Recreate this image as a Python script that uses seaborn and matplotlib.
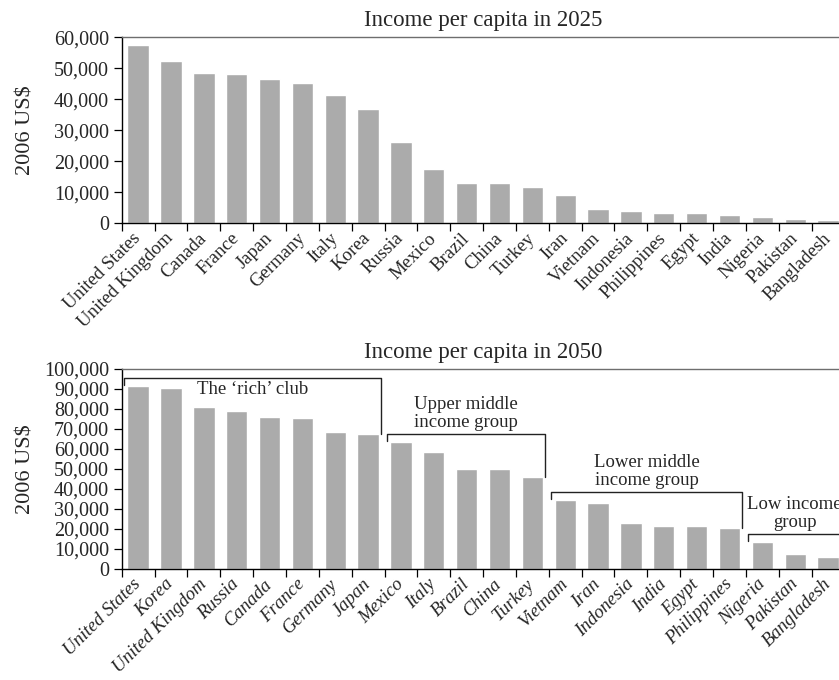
import numpy as np
import matplotlib
matplotlib.use('Agg')
import matplotlib.pyplot as plt
import seaborn as sns

# Income per capita (2006 US$)
countries_2025 = ['United States', 'United Kingdom', 'Canada', 'France', 'Japan', 'Germany',
                  'Italy', 'Korea', 'Russia', 'Mexico', 'Brazil', 'China', 'Turkey', 'Iran',
                  'Vietnam', 'Indonesia', 'Philippines', 'Egypt', 'India', 'Nigeria',
                  'Pakistan', 'Bangladesh']
income_2025 = [57400, 52300, 48400, 48100, 46500, 45200, 41300, 36800, 26100, 17400,
               12900, 12900, 11600, 9000, 4500, 3900, 3200, 3200, 2600, 1900, 1300, 1000]

countries_2050 = ['United States', 'Korea', 'United Kingdom', 'Russia', 'Canada', 'France',
                  'Germany', 'Japan', 'Mexico', 'Italy', 'Brazil', 'China', 'Turkey',
                  'Vietnam', 'Iran', 'Indonesia', 'India', 'Egypt', 'Philippines', 'Nigeria',
                  'Pakistan', 'Bangladesh']
income_2050 = [91500, 90300, 80800, 78800, 75800, 75300, 68500, 67500, 63500, 58500,
               50000, 50000, 46000, 34500, 33000, 23000, 21500, 21500, 20500, 13500,
               7500, 6000]

# income groups in 2050 (first and last member)
group_names = ['The \u2018rich\u2019 club', 'Upper middle\nincome group',
               'Lower middle\nincome group', 'Low income\ngroup']
group_first = ['United States', 'Mexico', 'Vietnam', 'Nigeria']
group_last = ['Japan', 'Turkey', 'Philippines', 'Bangladesh']

BAR = '#ababab'
BAR_W = 0.65

sns.set_theme(style='ticks')
plt.rcParams['font.family'] = ['Liberation Serif', 'DejaVu Serif']
plt.rcParams['axes.linewidth'] = 1.0

fig = plt.figure(figsize=(8.39, 6.8), dpi=100)
ax1 = fig.add_axes([0.1451, 0.6716, 0.8614, 0.2735])
ax2 = fig.add_axes([0.1451, 0.1632, 0.8614, 0.2941])


def draw(ax, names, values, ymax, title, italic):
    sns.barplot(x=names, y=values, color=BAR, saturation=1, width=BAR_W, ax=ax)
    n = len(names)
    ax.set_xlim(-0.5, n - 0.5)
    ax.set_ylim(0, ymax)
    yt = np.arange(0, ymax + 1, 10000)
    ax.set_yticks(yt)
    ax.set_yticklabels([f'{v:,}' for v in yt], fontsize=14.5)
    ax.set_xticks(range(n))
    ax.set_xticklabels(names, rotation=45, ha='right', va='center',
                       rotation_mode='anchor', fontsize=13.5,
                       style='italic' if italic else 'normal')
    ax.set_xticks(np.arange(-0.5, n, 1), minor=True)
    ax.tick_params(axis='x', which='major', length=0, pad=9)
    ax.tick_params(axis='x', which='minor', length=6, width=0.9, color='black')
    ax.tick_params(axis='y', length=6, width=0.9, color='black', pad=3)
    ax.spines['right'].set_visible(False)
    ax.spines['top'].set_color('#6e6e6e')
    ax.spines['left'].set_color('black')
    ax.spines['bottom'].set_color('black')
    ax.set_title(title, fontsize=16.5, pad=8)
    ax.set_xlabel('')
    ax.set_ylabel('2006 US$', fontsize=16)
    ax.yaxis.set_label_coords(-0.12, 0.5)


draw(ax1, countries_2025, income_2025, 60000, 'Income per capita in 2025', False)
draw(ax2, countries_2050, income_2050, 100000, 'Income per capita in 2050', True)

# group brackets on the 2050 chart
for k, (name, first, last) in enumerate(zip(group_names, group_first, group_last)):
    i0 = countries_2050.index(first)
    i1 = countries_2050.index(last)
    top = max(income_2050[i0:i1 + 1]) + 3800
    x0 = i0 - BAR_W / 2 - 0.1
    x1 = i1 + BAR_W / 2 + 0.07
    ax2.plot([x0, x0, x1, x1], [income_2050[i0] + 500, top, top, income_2050[i1]],
             color='#222222', lw=1, clip_on=False)
    xc = (x0 + x1) / 2
    if k == 0:
        ax2.text(xc, top - 1200, name, ha='center', va='top', fontsize=13.5,
                 linespacing=1.05)
    else:
        ax2.text(xc, top + 1800, name, ha='center', va='bottom', fontsize=13.5,
                 linespacing=1.05)

fig.savefig('out.png', dpi=100)
